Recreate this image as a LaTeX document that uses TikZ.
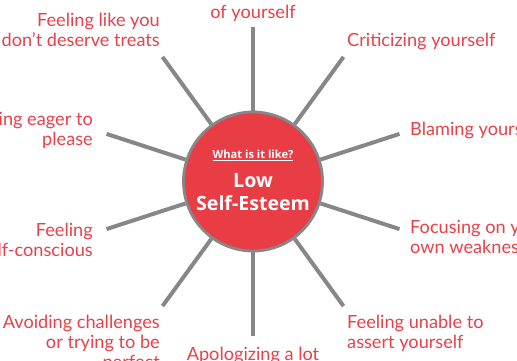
\documentclass[tikz,border=0pt]{standalone}
\usepackage{fontspec}
\setmainfont{Lato}
\newfontfamily\hubfont{Open Sans}
\usepackage{tikz}
\usepackage{xcolor}
\usetikzlibrary{positioning, calc}
\definecolor{LSERed}{HTML}{E8414A}
\definecolor{LSEFill}{HTML}{E83D45}
\definecolor{LSEGray}{HTML}{878787}
\definecolor{LSEWhite}{HTML}{FFFFFF}
\tikzset{
    % Centre circle styles
    hubcircle/.style={
        circle,
        draw=LSEGray,
        fill=LSEFill,
        line width=2.4pt,
        minimum size=4.17cm,
        inner sep=0pt
    },
    hubsmall/.style={
        text=LSEWhite,
        inner sep=0pt,
        font=\hubfont\bfseries\fontsize{9.5}{11}\selectfont
    },
    hubtitle/.style={
        text=LSEWhite,
        align=center,
        inner sep=0pt,
        font=\hubfont\bfseries\fontsize{16.7}{19.6}\selectfont
    },
    % Spoke style
    spoke/.style={
        draw=LSEGray,
        line width=3.4pt
    },
    % Label styles
    symptom/.style={
        text=LSERed,
        inner sep=0pt,
        font=\fontsize{15.5}{17}\selectfont
    },
    symptomleft/.style={symptom, align=right},
    symptomright/.style={symptom, align=left},
    symptommid/.style={symptom, align=center}
}
\begin{document}
\begin{tikzpicture}[x=0.03cm, y=0.03cm]
    \path[use as bounding box, clip] (0,0) rectangle (517,360);
    \fill[LSEWhite] (0,0) rectangle (517,360);

    % Centre
    \node[hubcircle] (esteem) at (253,178.5) {};
    \node[hubsmall, anchor=north] (whatlike) at (253,210) {\underline{What is it like?}};
    \node[hubtitle, anchor=north] (title) at (253,187) {Low\\Self-Esteem};

    % Spokes
    \foreach \a [count=\i] in {90,54,18,-18,-54,-90,-126,-162,162,126} {
        \coordinate (tip\i) at ($(esteem.center)+(\a:154)$);
        \draw[spoke] (esteem) -- (tip\i);
    }

    % Labels
    \node[symptommid, anchor=north] (l1) at (253,355) {of yourself};
    \node[symptomright, anchor=north west] (l2) at (347,327) {Criticizing yourself};
    \node[symptomright, anchor=north west] (l3) at (410,238) {Blaming yourself};
    \node[symptomright, anchor=north west] (l4) at (410,140) {Focusing on your\\own weaknesses};
    \node[symptomright, anchor=north west] (l5) at (347,45) {Feeling unable to\\assert yourself};
    \node[symptommid, anchor=north] (l6) at (253,13) {Apologizing a lot};
    \node[symptomleft, anchor=north east] (l7) at (160,45) {Avoiding challenges\\or trying to be\\perfect};
    \node[symptomleft, anchor=north east] (l8) at (93,137) {Feeling\\self-conscious};
    \node[symptomleft, anchor=north east] (l9) at (93,248) {Being eager to\\please};
    \node[symptomleft, anchor=north east] (l10) at (160,347) {Feeling like you\\don't deserve treats};
\end{tikzpicture}
\end{document}
